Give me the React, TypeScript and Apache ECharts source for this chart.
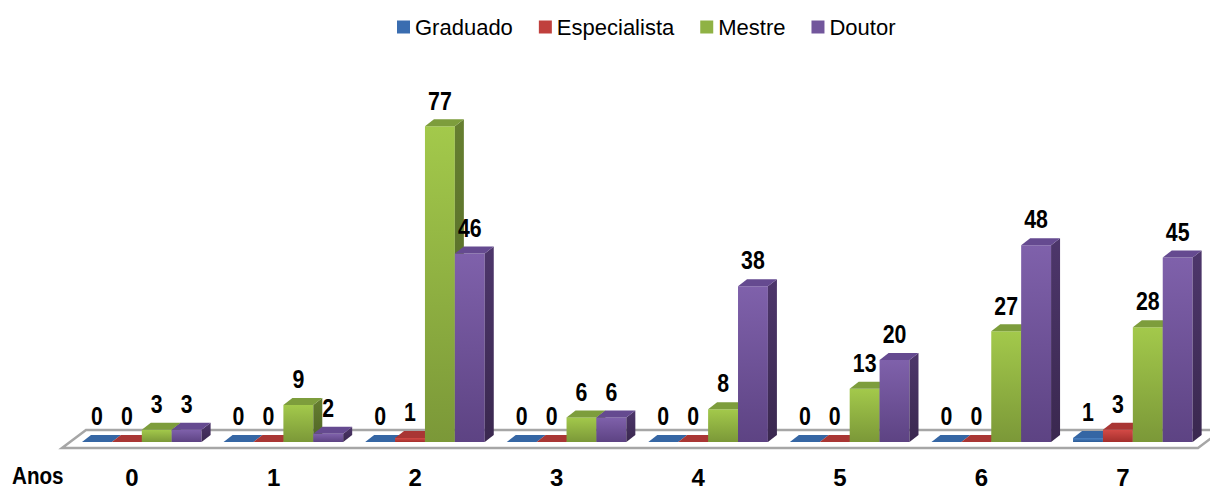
import React, { useEffect, useRef } from 'react';
import * as echarts from 'echarts';

const categories = ['0', '1', '2', '3', '4', '5', '6', '7'];
const seriesNames = ['Graduado', 'Especialista', 'Mestre', 'Doutor'];
const graduado = [0, 0, 0, 0, 0, 0, 0, 1];
const especialista = [0, 0, 1, 0, 0, 0, 0, 3];
const mestre = [3, 9, 77, 6, 8, 13, 27, 28];
const doutor = [3, 2, 46, 6, 38, 20, 48, 45];
const seriesValues = [graduado, especialista, mestre, doutor];
const axisTitle = 'Anos';

const FONT = '"Liberation Sans Narrow","Arial Narrow","Liberation Sans",Arial,sans-serif';
const NARROW = 0.82;

const palette = [
  { front: ['#4c82c3', '#2c5b96'], top: '#3566a4', side: ['#28517f', '#1d3c61'], legend: '#3a6db0' },
  { front: ['#d44a46', '#a32f2c'], top: '#a93634', side: ['#8a2a28', '#6e1f1d'], legend: '#c0403d' },
  { front: ['#a3c94b', '#7b9838'], top: '#7d9d3c', side: ['#667f30', '#4f6425'], legend: '#8fb244' },
  { front: ['#7f61ab', '#5d4383'], top: '#654a90', side: ['#4d366b', '#3a284f'], legend: '#72569c' },
];

function vgrad(a: string, b: string) {
  return new echarts.graphic.LinearGradient(0, 0, 0, 1, [
    { offset: 0, color: a },
    { offset: 1, color: b },
  ]);
}

function makeRender(si: number) {
  return (params: any, api: any) => {
    const cat = api.value(0);
    const val = api.value(1);
    const base = api.coord([cat, 0]);
    const topPt = api.coord([cat, val]);
    const band = api.size([1, 0])[0];
    const bw = band * 0.2112;
    const x0 = base[0] - band * 0.353 + si * bw;
    const y0 = base[1];
    const yt = topPt[1];
    const dx = 9;
    const dy = 7;
    const c = palette[si];
    const children: any[] = [];
    if (y0 - yt > 0.5) {
      children.push({
        type: 'rect',
        shape: { x: x0, y: yt, width: bw, height: y0 - yt },
        style: { fill: vgrad(c.front[0], c.front[1]) },
      });
      children.push({
        type: 'polygon',
        shape: { points: [[x0 + bw, yt], [x0 + bw + dx, yt - dy], [x0 + bw + dx, y0 - dy], [x0 + bw, y0]] },
        style: { fill: vgrad(c.side[0], c.side[1]) },
      });
    }
    children.push({
      type: 'polygon',
      shape: { points: [[x0, yt], [x0 + dx, yt - dy], [x0 + bw + dx, yt - dy], [x0 + bw, yt]] },
      style: { fill: c.top },
    });
    children.push({
      type: 'text',
      x: x0 + bw / 2,
      y: yt - dy - 19,
      scaleX: NARROW,
      style: {
        text: String(val),
        x: 0,
        y: 0,
        align: 'center',
        verticalAlign: 'middle',
        fontSize: 26,
        fontWeight: 'bold',
        fontFamily: FONT,
        fill: '#000',
      },
    });
    return { type: 'group', children };
  };
}

export default function App() {
  const ref = useRef<HTMLDivElement>(null);
  useEffect(() => {
    if (!ref.current) return;
    const chart = echarts.init(ref.current, undefined, { renderer: 'svg' });
    const series = seriesNames.map((name, si) => ({
      name,
      type: 'custom',
      z: 2,
      renderItem: makeRender(si),
      itemStyle: { color: palette[si].legend },
      data: categories.map((_, i) => [i, seriesValues[si][i]]),
      encode: { x: 0, y: 1 },
    }));
    chart.setOption({
      animation: false,
      backgroundColor: '#ffffff',
      legend: {
        top: 11,
        left: 392,
        icon: 'rect',
        itemWidth: 13,
        itemHeight: 13,
        itemGap: 26,
        textStyle: { fontSize: 22, fontFamily: FONT, color: '#000' },
        data: seriesNames,
      },
      grid: { left: 61.2, right: 16.2, top: 114, bottom: 47, containLabel: false },
      xAxis: {
        type: 'category',
        data: categories,
        axisLine: { show: false },
        axisTick: { show: false },
        axisLabel: {
          fontSize: 24,
          lineHeight: 24,
          fontWeight: 'bold',
          fontFamily: FONT,
          color: '#000',
          margin: 23,
        },
      },
      yAxis: { type: 'value', min: 0, max: 80, show: false, splitLine: { show: false } },
      graphic: [
        {
          type: 'polygon',
          z: 0,
          shape: { points: [[62, 448], [86, 430], [1222, 430], [1198, 448]] },
          style: { fill: '#ffffff', stroke: '#a6a6a6', lineWidth: 2.5 },
        },
        {
          type: 'text',
          z: 5,
          x: 12,
          y: 476,
          scaleX: 0.86,
          style: {
            text: axisTitle,
            x: 0,
            y: 0,
            verticalAlign: 'middle',
            fontSize: 24,
            lineHeight: 24,
            fontWeight: 'bold',
            fontFamily: FONT,
            fill: '#000',
          },
        },
      ],
      series,
    });
    return () => chart.dispose();
  }, []);
  return <div ref={ref} style={{ position: 'absolute', left: 0, top: 0, width: 1210, height: 489 }} />;
}
